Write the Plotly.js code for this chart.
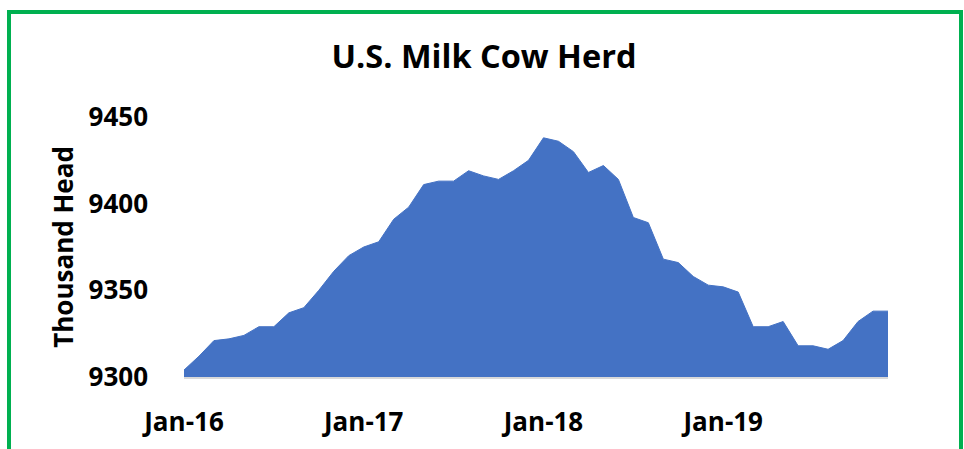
<!DOCTYPE html>
<html>
<head>
<meta charset="utf-8">
<script src="https://cdn.plot.ly/plotly-3.0.1.min.js"></script>
<style>
  html, body { margin: 0; padding: 0; background: #ffffff; overflow: hidden; }
  #wrap { position: relative; width: 964px; height: 449px; }
  #chart { position: absolute; left: 0; top: 0; width: 964px; height: 449px; }
  #frame { position: absolute; left: 7px; top: 10px; width: 948px; height: 460px;
           border: 4px solid #00B050; pointer-events: none; }
</style>
</head>
<body>
<div id="wrap">
  <div id="chart"></div>
  <div id="frame"></div>
</div>
<script>
const months = [
  "Jan-16","Feb-16","Mar-16","Apr-16","May-16","Jun-16","Jul-16","Aug-16","Sep-16","Oct-16","Nov-16","Dec-16",
  "Jan-17","Feb-17","Mar-17","Apr-17","May-17","Jun-17","Jul-17","Aug-17","Sep-17","Oct-17","Nov-17","Dec-17",
  "Jan-18","Feb-18","Mar-18","Apr-18","May-18","Jun-18","Jul-18","Aug-18","Sep-18","Oct-18","Nov-18","Dec-18",
  "Jan-19","Feb-19","Mar-19","Apr-19","May-19","Jun-19","Jul-19","Aug-19","Sep-19","Oct-19","Nov-19","Dec-19"
];
const herd = [
  9304, 9312, 9321, 9322, 9324, 9329, 9329, 9337, 9340, 9350, 9361, 9370,
  9375, 9378, 9391, 9398, 9411, 9413, 9413, 9419, 9416, 9414, 9419, 9425,
  9438, 9436, 9430, 9418, 9422, 9414, 9392, 9389, 9368, 9366, 9358, 9353,
  9352, 9349, 9329, 9329, 9332, 9318, 9318, 9316, 9321, 9332, 9338, 9338
];
const xTickVals = ["Jan-16", "Jan-17", "Jan-18", "Jan-19"];
const yTickVals = [9300, 9350, 9400, 9450];

const FONT = "'Open Sans', 'Liberation Sans', sans-serif";

const trace = {
  x: months,
  y: herd,
  type: "scatter",
  mode: "lines",
  fill: "tozeroy",
  fillcolor: "#4472C4",
  line: { color: "#4472C4", width: 1 },
  hoverinfo: "x+y"
};

const layout = {
  width: 964,
  height: 449,
  paper_bgcolor: "#ffffff",
  plot_bgcolor: "#ffffff",
  margin: { l: 184, r: 76, t: 117, b: 72, autoexpand: false },
  showlegend: false,
  title: {
    text: "<b>U.S. Milk Cow Herd</b>",
    font: { family: FONT, size: 32.5, color: "#000000" },
    x: 484 / 964, xref: "container", xanchor: "center",
    y: 1 - 57 / 449, yref: "container", yanchor: "middle"
  },
  xaxis: {
    type: "category",
    range: [0, months.length - 1],
    tickmode: "array",
    tickvals: xTickVals,
    ticktext: xTickVals.map(t => "<b>" + t + "</b>"),
    tickfont: { family: FONT, size: 26, color: "#000000" },
    ticks: "",
    ticklabelstandoff: 21,
    showgrid: false,
    zeroline: false,
    showline: true,
    linecolor: "#d9d9d9",
    linewidth: 1.5,
    fixedrange: true
  },
  yaxis: {
    range: [9300, 9450],
    tickmode: "array",
    tickvals: yTickVals,
    ticktext: yTickVals.map(v => "<b>" + v + "</b>"),
    tickfont: { family: FONT, size: 26, color: "#000000" },
    ticks: "",
    ticklabelstandoff: 35,
    showgrid: false,
    zeroline: false,
    showline: false,
    title: {
      text: "<b>Thousand Head</b>",
      font: { family: FONT, size: 26, color: "#000000" },
      standoff: 7
    },
    fixedrange: true
  }
};

Plotly.newPlot("chart", [trace], layout, { displayModeBar: false, staticPlot: true });
</script>
</body>
</html>
